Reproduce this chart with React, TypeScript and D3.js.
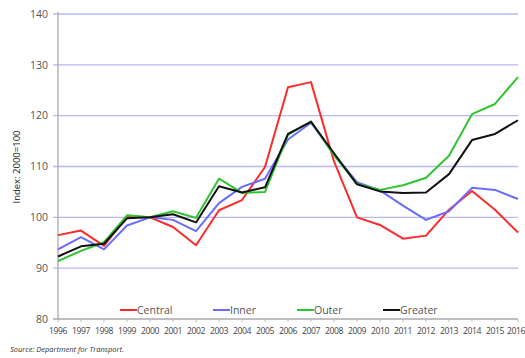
import { scaleLinear, line as d3Line } from 'd3';

const years = [
  1996, 1997, 1998, 1999, 2000, 2001, 2002, 2003, 2004, 2005, 2006,
  2007, 2008, 2009, 2010, 2011, 2012, 2013, 2014, 2015, 2016,
];
const central = [
  96.5, 97.4, 94.4, 100.2, 100, 98.1, 94.5, 101.4, 103.4, 109.9, 125.6,
  126.6, 111, 100, 98.5, 95.8, 96.4, 101.5, 105.2, 101.5, 97,
];
const inner = [
  93.7, 96.1, 93.7, 98.4, 100, 99.5, 97.3, 102.8, 106, 107.6, 115.3,
  118.6, 112.4, 106.9, 105.3, 102.3, 99.5, 101.2, 105.8, 105.4, 103.6,
];
const outer = [
  91.4, 93.4, 95.1, 100.4, 100, 101.2, 99.9, 107.6, 104.8, 105, 116.2,
  118.9, 112.2, 106.6, 105.4, 106.3, 107.8, 112.1, 120.3, 122.3, 127.6,
];
const greater = [
  92.3, 94.3, 94.8, 99.8, 100, 100.6, 99, 106.1, 104.9, 105.9, 116.4,
  118.8, 112.6, 106.5, 105.1, 104.8, 104.9, 108.5, 115.2, 116.4, 119.1,
];
const yTicks = [80, 90, 100, 110, 120, 130, 140];

const series = [
  { name: 'Central', values: central, color: '#ff2a2a' },
  { name: 'Inner', values: inner, color: '#6b6bff' },
  { name: 'Outer', values: outer, color: '#2ec52e' },
  { name: 'Greater', values: greater, color: '#111111' },
];

const W = 525;
const H = 358;
const FONT = "'Open Sans', 'DejaVu Sans', sans-serif";

const App = () => {
  const x = scaleLinear().domain([1996, 2016]).range([58, 518]);
  const y = scaleLinear().domain([80, 140]).range([319, 14]);

  // legend slots (x of line start)
  const legendX = [120, 213, 297, 383];

  return (
    <svg
      width={W}
      height={H}
      style={{ position: 'absolute', left: 0, top: 0, background: '#fff' }}
      fontFamily={FONT}
    >
      {/* gridlines */}
      {yTicks.map((t) => (
        <g key={t}>
          {t > 80 && (
            <line x1={53} x2={518} y1={y(t)} y2={y(t)} stroke="#b8b8f4" strokeWidth={1.3} />
          )}
          <text
            x={48}
            y={y(t)}
            dy="0.35em"
            textAnchor="end"
            fontSize={10.5}
            fill="#555"
          >
            {t}
          </text>
        </g>
      ))}

      {/* axes */}
      <line x1={58} x2={58} y1={12} y2={320} stroke="#aaa" strokeWidth={1.3} />
      <line x1={53} x2={518} y1={y(80)} y2={y(80)} stroke="#aaa" strokeWidth={1.3} />
      {years.map((yr, i) => (
        <g key={yr}>
          <line x1={x(yr)} x2={x(yr)} y1={319} y2={322} stroke="#bbb" />
          <text
            x={x(yr)}
            dx={i === years.length - 1 ? -2 : 0}
            y={334}
            textAnchor="middle"
            fontSize={8.6}
            fill="#444"
            letterSpacing={-0.4}
          >
            {yr}
          </text>
        </g>
      ))}

      <text
        transform={`translate(20, 167) rotate(-90)`}
        textAnchor="middle"
        fontSize={9.5}
        fill="#222"
      >
        Index: 2000=100
      </text>

      {/* lines */}
      {series.map((s) => {
        const path = d3Line<number>()
          .x((_, i) => x(years[i]))
          .y((v) => y(v))(s.values);
        return (
          <path
            key={s.name}
            d={path ?? ''}
            fill="none"
            stroke={s.color}
            strokeWidth={2}
            strokeLinejoin="round"
          />
        );
      })}

      {/* legend */}
      {series.map((s, i) => (
        <g key={s.name} transform={`translate(${legendX[i]}, 310)`}>
          <line x1={0} x2={17} y1={0} y2={0} stroke={s.color} strokeWidth={2} />
          <text x={17} y={0} dy="0.35em" fontSize={10.5} fill="#555">
            {s.name}
          </text>
        </g>
      ))}

      <text x={10} y={352} fontSize={7.5} fontStyle="italic" fill="#333">
        Source: Department for Transport.
      </text>
    </svg>
  );
};

export default App;
